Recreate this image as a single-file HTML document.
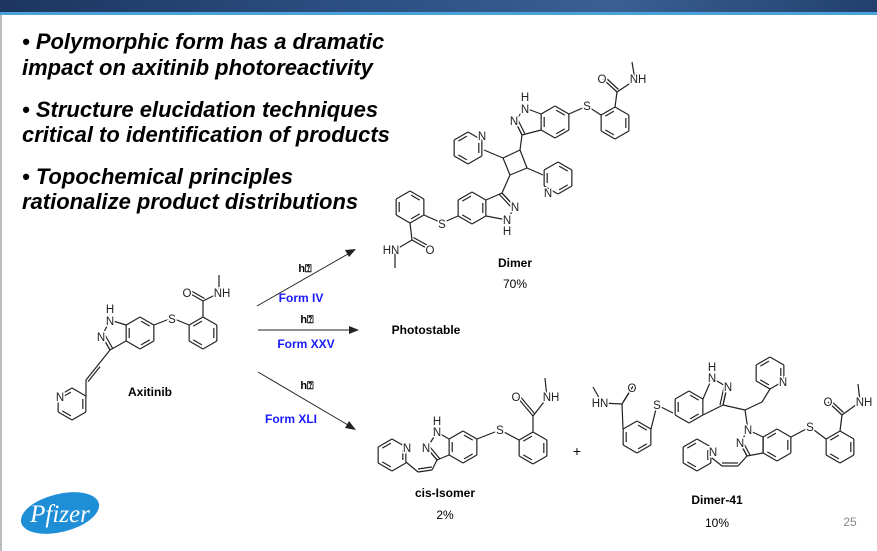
<!DOCTYPE html>
<html><head><meta charset="utf-8">
<style>
html,body{margin:0;padding:0;background:#fff}
#w{position:relative;width:877px;height:551px;overflow:hidden;background:#fff;font-family:"Liberation Sans",sans-serif}
.top{position:absolute;left:0;top:0;width:877px;height:12px;background:linear-gradient(90deg,#1d3560,#2c4f82 40%,#3a5f92 70%,#22406e)}
.top2{position:absolute;left:0;top:12px;width:877px;height:3px;background:#4aa3d8}
.lb{position:absolute;left:0;top:15px;width:2px;height:536px;background:#bbb}
.b{position:absolute;left:22px;font-weight:bold;font-style:italic;font-size:22px;color:#000;white-space:nowrap;line-height:1}
</style></head><body><div id="w">
<div class="top"></div><div class="top2"></div><div class="lb"></div>
<div class="b" style="top:31px">• Polymorphic form has a dramatic</div>
<div class="b" style="top:57px">impact on axitinib photoreactivity</div>
<div class="b" style="top:99px">• Structure elucidation techniques</div>
<div class="b" style="top:124px">critical to identification of products</div>
<div class="b" style="top:166px">• Topochemical principles</div>
<div class="b" style="top:191px">rationalize product distributions</div>
<svg id="s" width="877" height="551" style="position:absolute;left:0;top:0" xmlns="http://www.w3.org/2000/svg">
<g id="g" stroke="#222" stroke-width="1.2" fill="none"></g>
<g id="t" font-family="Liberation Sans, sans-serif" font-size="11.5" fill="#222" text-anchor="middle" style="paint-order:stroke" stroke="#fff" stroke-width="3"></g>
<g font-family="Liberation Sans, sans-serif" text-anchor="middle">
<text x="305" y="272" font-size="11" font-weight="bold">h⍰</text>
<text x="301" y="302" font-size="12" font-weight="bold" fill="#1a1aff">Form IV</text>
<text x="307" y="323" font-size="11" font-weight="bold">h⍰</text>
<text x="306" y="348" font-size="12" font-weight="bold" fill="#1a1aff">Form XXV</text>
<text x="307" y="389" font-size="11" font-weight="bold">h⍰</text>
<text x="291" y="423" font-size="12" font-weight="bold" fill="#1a1aff">Form XLI</text>
<text x="426" y="334" font-size="12" font-weight="bold">Photostable</text>
<text x="150" y="396" font-size="12" font-weight="bold">Axitinib</text>
<text x="515" y="267" font-size="12" font-weight="bold">Dimer</text>
<text x="515" y="288" font-size="12">70%</text>
<text x="445" y="497" font-size="12" font-weight="bold">cis-Isomer</text>
<text x="445" y="519" font-size="12">2%</text>
<text x="717" y="504" font-size="12" font-weight="bold">Dimer-41</text>
<text x="717" y="527" font-size="12">10%</text>
<text x="850" y="526" font-size="12" fill="#888">25</text>
<text x="577" y="456" font-size="14">+</text>
</g>
<g stroke="#222" stroke-width="1" fill="#222">
<line x1="257" y1="306" x2="348" y2="254"/><polygon points="356,249 345,250 349,257" stroke="none"/>
<line x1="258" y1="330" x2="350" y2="330"/><polygon points="359,330 349,326 349,334" stroke="none"/>
<line x1="258" y1="372" x2="348" y2="425"/><polygon points="356,430 349,421 345,428" stroke="none"/>
</g>
<g transform="rotate(-14 60 513)"><ellipse cx="60" cy="513" rx="40" ry="19" fill="#1e8fd6"/></g>
<text x="60" y="522" font-family="Liberation Serif, serif" font-style="italic" font-size="25" fill="#fff" text-anchor="middle">Pfizer</text>
</svg>
<script>
var G=document.getElementById('g'),T=document.getElementById('t'),NS='http://www.w3.org/2000/svg';
function L(a,b,c,d){var e=document.createElementNS(NS,'line');e.setAttribute('x1',a);e.setAttribute('y1',b);e.setAttribute('x2',c);e.setAttribute('y2',d);G.appendChild(e);}
function P(pts){for(var i=0;i<pts.length-1;i++)L(pts[i][0],pts[i][1],pts[i+1][0],pts[i+1][1]);}
function D(p,q,cx,cy){var s=0.22,k=0.8;var ax=p[0]+(cx-p[0])*s,ay=p[1]+(cy-p[1])*s,bx=q[0]+(cx-q[0])*s,by=q[1]+(cy-q[1])*s;var mx=(ax+bx)/2,my=(ay+by)/2;L(mx+(ax-mx)*k,my+(ay-my)*k,mx+(bx-mx)*k,my+(by-my)*k);}
function H(cx,cy,r,rot,dbl){var v=[];for(var i=0;i<6;i++){var a=(rot+60*i)*Math.PI/180;v.push([cx+r*Math.cos(a),cy+r*Math.sin(a)]);}
for(var i=0;i<6;i++){L(v[i][0],v[i][1],v[(i+1)%6][0],v[(i+1)%6][1]);}
(dbl||[0,2,4]).forEach(function(i){D(v[i],v[(i+1)%6],cx,cy);});return v;}
function X(x,y,s){var e=document.createElementNS(NS,'text');e.setAttribute('x',x);e.setAttribute('y',y+4);e.textContent=s;T.appendChild(e);}
function DB(a,b,c,d,ox,oy){L(a,b,c,d);L(a+ox,b+oy,c+ox,d+oy);}
function amide(cx,cy,topx,topy,ox,oy,nx,ny,mx,my){L(topx,topy,cx,cy);DB(cx,cy,ox,oy,1.5,-2.5);L(cx,cy,nx,ny);L(nx,ny,mx,my);}
/* Axitinib */
var A=H(140,333,16,-90);var B=H(203,333,16,-90,[1,3,5]);
P([[126,325],[110,320],[102,336],[110,350],[126,341]]);DB(102,336,110,350,3,-1);
L(154,325,172,318);L(172,318,189,325);
amide(203,301,203,317,189,293,219,293,219,275);
L(110,350,98,365);DB(98,365,86,380,2,1.6);L(86,380,86,396);
H(72,404,16,-30,[0,2,4]);
X(110,309,'H');X(110,321,'N');X(101,337,'N');X(172,319,'S');X(187,293,'O');X(222,293,'NH');X(60,397,'N');
/* Dimer */
H(555,122,16,-90);H(615,123,16,-90,[1,3,5]);
P([[541,114],[525,108],[515,121],[522,135],[541,130]]);DB(515,121,522,135,3,-1);
L(569,114,587,106);L(587,106,601,115);
amide(617,92,615,107,603,79,635,80,632,62);
X(525,97,'H');X(525,109,'N');X(514,121,'N');X(587,106,'S');X(602,79,'O');X(638,79,'NH');
P([[522,135],[520,150],[503,158],[510,175],[527,168],[520,150]]);
L(503,158,484,150);H(468,148,16,-30,[0,2,4]);X(482,136,'N');
L(527,168,543,175);H(558,178,16,30,[0,2,4]);X(548,193,'N');
L(510,175,502,193);
H(472,208,16,-90,[1,3,5]);
P([[486,200],[502,193],[515,207],[507,220],[486,216]]);DB(502,193,515,207,-3,1);
X(515,207,'N');X(507,220,'N');X(507,231,'H');
L(458,216,442,223);H(410,207,16,-90,[0,2,4]);L(442,223,424,215);
amide(412,240,410,223,428,249,395,250,395,268);
X(442,224,'S');X(430,250,'O');X(391,250,'HN');
/* cis-isomer */
H(463,447,16,-90);H(533,448,16,-90,[1,3,5]);
P([[449,439],[437,432],[427,448],[437,460],[449,455]]);DB(427,448,437,460,3,-1);
L(437,460,432,470);DB(432,470,418,472,0,-3);L(418,472,406,462);H(392,455,16,-30,[0,2,4]);
L(477,439,500,430);L(500,430,519,440);
amide(533,416,533,432,517,397,547,398,545,378);
X(437,421,'H');X(437,432,'N');X(426,448,'N');X(407,448,'N');X(500,430,'S');X(516,397,'O');X(551,397,'NH');
/* Dimer-41 */
H(637,437,16,-90,[0,2,4]);amide(622,404,623,429,632,388,602,403,593,387);
X(632,388,'O');X(600,403,'HN');
L(651,429,657,405);L(657,405,673,413);X(657,405,'S');
H(689,407,16,-90);
P([[703,399],[712,378],[727,387],[723,405],[703,415]]);DB(727,387,723,405,-3,0);
X(712,367,'H');X(712,378,'N');X(728,387,'N');
L(723,405,745,410);L(745,410,762,402);L(762,402,770,389);H(770,373,16,90,[0,2,4]);X(783,382,'N');
L(745,410,748,430);
P([[748,430],[740,443],[747,456],[763,453],[763,437],[748,430]]);DB(740,443,747,456,3,-1);
H(777,445,16,-90,[1,3,5]);
X(748,430,'N');X(740,443,'N');
L(747,456,738,466);DB(738,466,722,466,0,-3);L(722,466,712,458);H(697,455,16,-30,[0,2,4]);X(713,452,'N');
L(791,437,810,427);L(810,427,826,439);X(810,427,'S');
H(840,447,16,-90,[1,3,5]);amide(842,415,840,431,828,402,860,402,858,384);
X(828,402,'O');X(864,402,'NH');
</script>
</div></body></html>
